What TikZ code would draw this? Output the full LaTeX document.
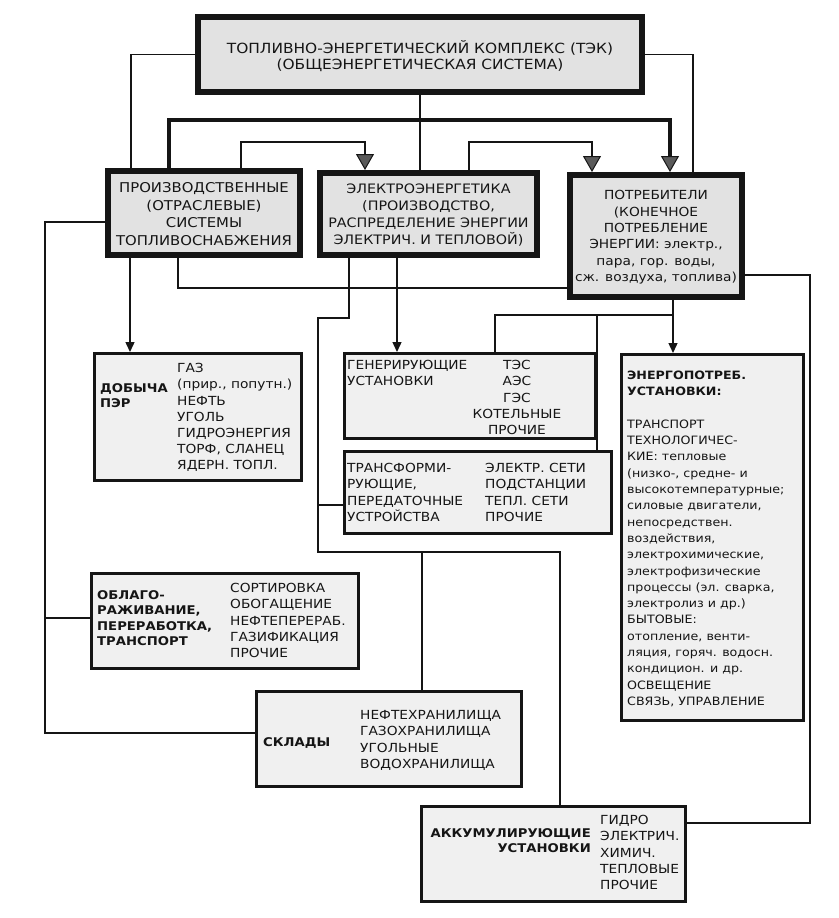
\documentclass[tikz,border=0pt]{standalone}
\usepackage{fontspec}
\setmainfont{DejaVu Sans}[FakeStretch=1.1]
\usetikzlibrary{arrows.meta}
\definecolor{boxgray}{HTML}{E2E2E2}
\definecolor{boxlight}{HTML}{F0F0F0}
\definecolor{arrowgray}{HTML}{5A5A5A}
\definecolor{ink}{HTML}{151515}
\newcommand\fls{\rule{0pt}{0.95em}}
\newcommand\fntA{\fontsize{14}{16}\selectfont}
\newcommand\fntB{\fontsize{13.5}{17.5}\selectfont}
\newcommand\fntBB{\fontsize{13}{17}\selectfont}
\newcommand\fntP{\fontsize{12.5}{16.4}\selectfont}
\newcommand\fntC{\fontsize{12.5}{16.2}\selectfont}
\newcommand\fntCB{\fontsize{12}{15.5}\selectfont\bfseries}
\newcommand\fntE{\fontsize{11.5}{16.3}\selectfont}
\tikzset{
  bigbox/.style={draw=ink, line width=6pt, fill=boxgray, inner sep=0pt},
  smallbox/.style={draw=ink, line width=3pt, fill=boxlight, inner sep=0pt},
  txt/.style={inner sep=0pt, align=left, anchor=north west, text=ink},
  ctxt/.style={inner sep=0pt, align=center, anchor=north, text=ink},
  rtxt/.style={inner sep=0pt, align=right, anchor=north east, text=ink},
  conn/.style={draw=ink, line width=1.4pt},
  thickconn/.style={draw=ink, line width=3.5pt},
  midconn/.style={draw=ink, line width=2.6pt},
  bigarrow/.style={-{Triangle[width=18pt,length=16pt,fill=arrowgray,line width=1pt]}},
  smallarrow/.style={-{Triangle[width=9pt,length=10pt]}},
}
\begin{document}
\begin{tikzpicture}[x=1pt,y=-1pt]
\fill[white] (0,0) rectangle (838,918);
\useasboundingbox (0,0) rectangle (838,918);

% ---------- boxes ----------
\node[bigbox, minimum width=444pt, minimum height=75pt] (top) at (420,54.5) {};
\node[bigbox, minimum width=192pt, minimum height=84pt] (prod) at (204,213) {};
\node[bigbox, minimum width=217pt, minimum height=82pt] (elec) at (428.5,214) {};
\node[bigbox, minimum width=172pt, minimum height=122pt] (potr) at (656,236) {};

\node[smallbox, minimum width=207pt, minimum height=127pt] (dob) at (198,417) {};
\node[smallbox, minimum width=251pt, minimum height=85pt] (gen) at (470,396) {};
\node[smallbox, minimum width=267pt, minimum height=82pt] (trans) at (478,492.5) {};
\node[smallbox, minimum width=182pt, minimum height=366pt] (energ) at (712.5,537.5) {};
\node[smallbox, minimum width=267pt, minimum height=95pt] (oblag) at (225,621) {};
\node[smallbox, minimum width=265pt, minimum height=95pt] (sklad) at (389,739) {};
\node[smallbox, minimum width=264pt, minimum height=95pt] (akk) at (553.5,854) {};

% ---------- texts ----------
\node[ctxt, font=\fntA] (toptxt) at (420,40)
  {\fls ТОПЛИВНО-ЭНЕРГЕТИЧЕСКИЙ КОМПЛЕКС (ТЭК)\\(ОБЩЕЭНЕРГЕТИЧЕСКАЯ СИСТЕМА)};
\node[ctxt, font=\fntB] (prodtxt) at (204,179.6)
  {\fls ПРОИЗВОДСТВЕННЫЕ\\(ОТРАСЛЕВЫЕ)\\СИСТЕМЫ\\ТОПЛИВОСНАБЖЕНИЯ};
\node[ctxt, font=\fntBB] (electxt) at (428.5,181.4)
  {\fls ЭЛЕКТРОЭНЕРГЕТИКА\\(ПРОИЗВОДСТВО,\\РАСПРЕДЕЛЕНИЕ ЭНЕРГИИ\\ЭЛЕКТРИЧ. И ТЕПЛОВОЙ)};
\node[ctxt, font=\fntP] (potrtxt) at (656,187.7)
  {\fls ПОТРЕБИТЕЛИ\\(КОНЕЧНОЕ\\ПОТРЕБЛЕНИЕ\\ЭНЕРГИИ: электр.,\\пара, гор. воды,\\сж. воздуха, топлива)};

\node[txt, font=\fntCB] (dobL) at (100,380.7) {\fls ДОБЫЧА\\ПЭР};
\node[txt, font=\fntC] (dobR) at (177,360.7)
  {\fls ГАЗ\\(прир., попутн.)\\НЕФТЬ\\УГОЛЬ\\ГИДРОЭНЕРГИЯ\\ТОРФ, СЛАНЕЦ\\ЯДЕРН. ТОПЛ.};

\node[txt, font=\fntC] (genL) at (347,357.7) {\fls ГЕНЕРИРУЮЩИЕ\\УСТАНОВКИ};
\node[ctxt, font=\fntC] (genR) at (517,357.7) {\fls ТЭС\\АЭС\\ГЭС\\КОТЕЛЬНЫЕ\\ПРОЧИЕ};

\node[txt, font=\fntC] (transL) at (347,460.7)
  {\fls ТРАНСФОРМИ-\\РУЮЩИЕ,\\ПЕРЕДАТОЧНЫЕ\\УСТРОЙСТВА};
\node[txt, font=\fntC] (transR) at (485,460.7)
  {\fls ЭЛЕКТР. СЕТИ\\ПОДСТАНЦИИ\\ТЕПЛ. СЕТИ\\ПРОЧИЕ};

\node[txt, font=\fntE] (energtxt) at (627,368.3)
  {\fls\textbf{ЭНЕРГОПОТРЕБ.}\\\textbf{УСТАНОВКИ:}\\[16.3pt]
   ТРАНСПОРТ\\ТЕХНОЛОГИЧЕС-\\КИЕ: тепловые\\(низко-, средне- и\\высокотемпературные;\\
   силовые двигатели,\\непосредствен.\\воздействия,\\электрохимические,\\
   электрофизические\\процессы (эл. сварка,\\электролиз и др.)\\БЫТОВЫЕ:\\
   отопление, венти-\\ляция, горяч. водосн.\\кондицион. и др.\\ОСВЕЩЕНИЕ\\СВЯЗЬ, УПРАВЛЕНИЕ};

\node[txt, font=\fntCB] (oblagL) at (97,587.7)
  {\fls ОБЛАГО-\\РАЖИВАНИЕ,\\ПЕРЕРАБОТКА,\\ТРАНСПОРТ};
\node[txt, font=\fntC] (oblagR) at (230,580.7)
  {\fls СОРТИРОВКА\\ОБОГАЩЕНИЕ\\НЕФТЕПЕРЕРАБ.\\ГАЗИФИКАЦИЯ\\ПРОЧИЕ};

\node[txt, font=\fntCB] (skladL) at (263,734.7) {\fls СКЛАДЫ};
\node[txt, font=\fntC] (skladR) at (360,707.7)
  {\fls НЕФТЕХРАНИЛИЩА\\ГАЗОХРАНИЛИЩА\\УГОЛЬНЫЕ\\ВОДОХРАНИЛИЩА};

\node[rtxt, font=\fntCB] (akkL) at (591,825.7) {\fls АККУМУЛИРУЮЩИЕ\\УСТАНОВКИ};
\node[txt, font=\fntC] (akkR) at (600,812.7)
  {\fls ГИДРО\\ЭЛЕКТРИЧ.\\ХИМИЧ.\\ТЕПЛОВЫЕ\\ПРОЧИЕ};

% ---------- junction coordinates ----------
\coordinate (ya) at (0,120);
\coordinate (yb) at (0,142);
\coordinate (yc) at (0,288);
\coordinate (j1) at (318,318);
\coordinate (j2) at (318,552);
\coordinate (j3) at (560,552);
\coordinate (j4) at (422,552);
\coordinate (j5) at (318,505);
\coordinate (j6) at (673,315);
\coordinate (j7) at (495,315);
\coordinate (j8) at (597,315);
\coordinate (j9) at (810,275);
\coordinate (yg) at (0,823);
\coordinate (j10) at (45,222);
\coordinate (j11) at (45,733);
\coordinate (j12) at (45,618);

% ---------- upper connectors ----------
\draw[conn] (top.west) -| ([xshift=26pt]prod.north west);
\draw[conn] (top.east) -| ([xshift=-52pt]potr.north east);
\draw[conn] (top.south) -- (top.south |- elec.north);

\draw[thickconn, bigarrow] ([xshift=64pt]prod.north west) |- ([xshift=103pt]potr.north west |- ya) -- ([xshift=103pt]potr.north west);
\draw[midconn, bigarrow] ([xshift=136pt]prod.north west) |- ([xshift=48pt]elec.north west |- yb) -- ([xshift=48pt]elec.north west);
\draw[midconn, bigarrow] ([xshift=152pt]elec.north west) |- ([xshift=25pt]potr.north west |- yb) -- ([xshift=25pt]potr.north west);

% ---------- lower connectors ----------
\draw[conn, smallarrow] ([xshift=25pt]prod.south west) -- ([xshift=25pt]prod.south west |- dob.north);
\draw[conn] ([xshift=73pt]prod.south west) |- (potr.west |- yc);

\draw[conn] ([xshift=32pt]elec.south west) |- (j1) -- (j2) -- (j3) -- (j3 |- akk.north);
\draw[conn] (j4) -- (j4 |- sklad.north);
\draw[conn] (j5) -- (j5 -| trans.west);
\draw[conn, smallarrow] ([xshift=80pt]elec.south west) -- ([xshift=80pt]elec.south west |- gen.north);

\draw[conn, smallarrow] ([xshift=106pt]potr.south west) -- ([xshift=106pt]potr.south west |- energ.north);
\draw[conn] (j6) -- (j7) -- (j7 |- gen.north);
\draw[conn] (j8) -- (j8 |- trans.north);

\draw[conn] (potr.east |- j9) -- (j9) -- (j9 |- yg) -- (akk.east |- yg);
\draw[conn] (prod.west |- j10) -- (j10) -- (j11) -- (sklad.west |- j11);
\draw[conn] (j12) -- (oblag.west |- j12);
\end{tikzpicture}
\end{document}
